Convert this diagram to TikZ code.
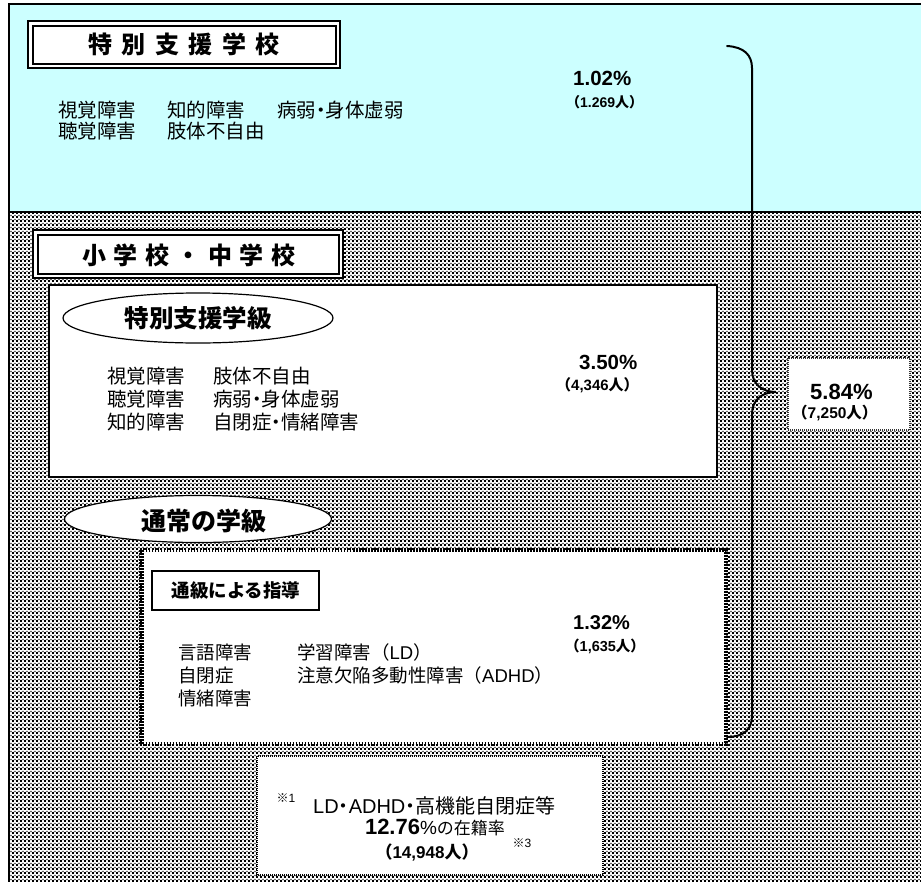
\documentclass[tikz,border=0pt]{standalone}
\usepackage{fontspec}
\setmainfont{Noto Sans CJK JP}
\newfontfamily\arial{Liberation Sans}
\usetikzlibrary{shapes.geometric,patterns.meta}
\definecolor{skyc}{HTML}{CCFFFF}
\pgfdeclarepattern{name=screen, type=colored,
  bottom left={\pgfpoint{0pt}{0pt}}, top right={\pgfpoint{4pt}{4pt}},
  tile size={\pgfpoint{4pt}{4pt}},
  code={
    \pgfsetfillcolor{black}
    \pgfpathrectangle{\pgfpoint{0pt}{0pt}}{\pgfpoint{2.4pt}{2.4pt}}\pgfusepath{fill}
    \pgfsetfillcolor{black!60}
    \pgfpathrectangle{\pgfpoint{2.2pt}{2.2pt}}{\pgfpoint{1.8pt}{1.8pt}}\pgfusepath{fill}
  }}
\newcommand{\nk}{\kern-0.25em・\kern-0.25em}
\newcommand{\fs}[1]{\fontsize{#1}{#1}\selectfont}
\tikzset{
  lbl/.style={anchor=west, inner sep=0pt, font=\fs{19.5}},
  lblsm/.style={anchor=west, inner sep=0pt, font=\fs{18.5}},
  pct/.style={anchor=west, inner sep=0pt, font=\arial\bfseries\fs{20.5}},
  cnt/.style={anchor=west, inner sep=0pt, font=\bfseries\fs{14}},
  ttl/.style={inner sep=0pt, font=\bfseries\fs{24}},
  ovl/.style={ellipse, draw, line width=1.2pt, fill=white, inner sep=0pt},
  outerbox/.style={draw, line width=1.3pt, fill=white},
  innerbox/.style={draw, line width=2pt},
  brace/.style={draw, line width=2pt, line cap=round},
}
\begin{document}
\begin{tikzpicture}[x=1pt,y=-1pt]
\useasboundingbox (0,0) rectangle (921,881);
% backgrounds
\fill[skyc] (9,4) rectangle (930,212);
\fill[white] (9,212) rectangle (930,890);
\fill[pattern=screen] (9,212) rectangle (930,890);
\draw[line width=2pt] (930,4) -- (9,4) -- (9,890);
\draw[line width=1.6pt] (9,212) -- (930,212);

% title 1
\draw[outerbox] (28,21) rectangle (340,68);
\draw[innerbox] (32.5,25.5) rectangle (335.5,63.5);
\node[ttl] (t1) at (184,44) {特\hspace{9.5pt}別\hspace{9.5pt}支\hspace{9.5pt}援\hspace{9.5pt}学\hspace{9.5pt}校};

\node[lbl] (a1) at (58,110) {視覚障害};
\node[lbl] (a2) at (167,110) {知的障害};
\node[lbl] (a3) at (277,110) {病弱\nk 身体虚弱};
\node[lbl] (a4) at (58,131) {聴覚障害};
\node[lbl] (a5) at (167,131) {肢体不自由};
\node[pct] (p1) at (573,78) {1.02\%};
\node[cnt] (c1) at (566,102) {（{\arial 1.269}人）};

% title 2
\draw[outerbox] (33,230) rectangle (343,278);
\draw[innerbox] (37.5,234.5) rectangle (338.5,273.5);
\node[ttl] (t2) at (189,255) {小\hspace{7.5pt}学\hspace{7.5pt}校\hspace{7.5pt}・\hspace{7.5pt}中\hspace{7.5pt}学\hspace{7.5pt}校};

% special class box
\draw[line width=2pt, fill=white] (49,285) rectangle (717,477);
\node[ovl, minimum width=270pt, minimum height=50pt] (e1) at (198,318) {};
\node[ttl, font=\bfseries\fs{24.5}] (e1t) at (198,318) {特別支援学級};
\node[lbl] (b1) at (107,376) {視覚障害};
\node[lbl] (b2) at (213,376) {肢体不自由};
\node[lbl] (b3) at (107,399) {聴覚障害};
\node[lbl] (b4) at (213,399) {病弱\nk 身体虚弱};
\node[lbl] (b5) at (107,422) {知的障害};
\node[lbl] (b6) at (213,422) {自閉症\nk 情緒障害};
\node[pct] (p2) at (579,362) {3.50\%};
\node[cnt, font=\bfseries\fs{15}] (c2) at (556,385) {（{\arial 4,346}人）};

% regular class
\node[ovl, minimum width=267pt, minimum height=47pt] (e2) at (198,519) {};
\node[ttl, font=\bfseries\fs{25}] (e2t) at (204,521) {通常の学級};
\fill[white] (141.5,550) rectangle (726,744);
\draw[line width=4.5pt, dash pattern=on 1.5pt off 1.5pt] (141.5,550) rectangle (726,744);
\draw[line width=1.5pt, fill=white] (152,571) rectangle (319,610);
\node[ttl, font=\bfseries\fs{18.5}] (g1) at (236,590) {通級による指導};
\node[lblsm] (d1) at (178,652) {言語障害};
\node[lblsm] (d2) at (297,652) {学習障害（{\arial LD}）};
\node[lblsm] (d3) at (178,675) {自閉症};
\node[lblsm] (d4) at (297,675) {注意欠陥多動性障害（{\arial ADHD}）};
\node[lblsm] (d5) at (178,698) {情緒障害};
\node[pct, font=\arial\bfseries\fs{20}] (p3) at (573,623) {1.32\%};
\node[cnt, font=\bfseries\fs{14.5}] (c3) at (565,646) {（{\arial 1,635}人）};

% total box
\draw[line width=1.5pt, fill=white, dash pattern=on 1pt off 1pt, draw=black!80] (788,358) rectangle (910,430);
\node[pct, font=\arial\bfseries\fs{22}] (p4) at (810,392) {5.84\%};
\node[cnt, font=\bfseries\fs{15.5}] (c4) at (792,413) {（{\arial 7,250}人）};

% brace
\coordinate (bt) at (727,46);
\coordinate (bm) at (776,392);
\coordinate (bb) at (727,737);
\draw[brace] (bt) .. controls (744,47) and (752,55) .. (752,68) -- (752,370)
  .. controls (752,384) and (762,392) .. (bm)
  .. controls (762,392) and (752,400) .. (752,414) -- (752,716)
  .. controls (752,729) and (744,737) .. (bb);

% bottom box
\draw[line width=2pt, fill=white, dash pattern=on 1pt off 1pt] (257,756) rectangle (603,875);
\node[inner sep=0pt, font=\fs{12}] (n1) at (286,798) {※{\arial 1}};
\node[anchor=west, inner sep=0pt, font=\fs{20}] (f1) at (313,806) {{\arial LD}\nk{\arial ADHD}\nk 高機能自閉症等};
\node[inner sep=0pt] (f2) at (435,828) {{\arial\bfseries\fs{22}12.76}{\arial\fs{19}\%}{\fs{17}の在籍率}};
\node[inner sep=0pt, font=\bfseries\fs{17}] (f3) at (427,852) {（{\arial 14,948}人）};
\node[inner sep=0pt, font=\fs{12}] (n3) at (522,843) {※{\arial 3}};
\end{tikzpicture}
\end{document}
